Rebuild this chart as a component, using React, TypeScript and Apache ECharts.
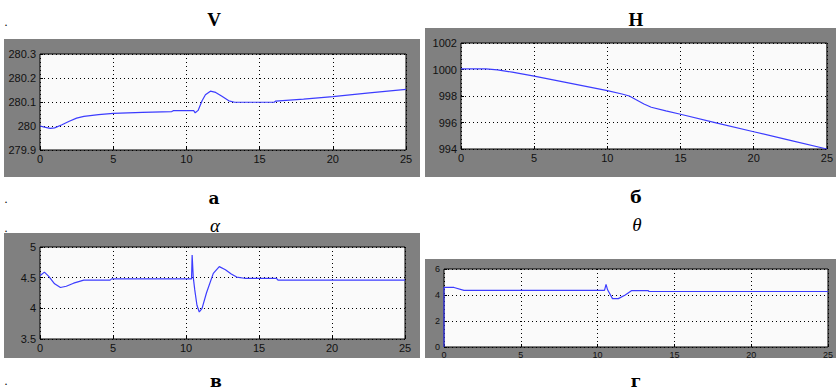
import React, { useEffect, useRef } from "react";
import * as echarts from "echarts";

// ---- data ----
const xTicks = [0, 5, 10, 15, 20, 25];

const vTime = [0, 0.3, 0.7, 1.0, 1.5, 2.0, 2.5, 3.0, 4.0, 5.0, 7.0, 9.0, 9.1, 10.5, 10.6, 10.8, 11.07, 11.3, 11.64, 12.0, 12.4, 12.9, 13.3, 16.0, 16.1, 18, 20, 22.5, 25];
const vValues = [280.0, 279.995, 279.99, 279.992, 280.005, 280.02, 280.033, 280.04, 280.047, 280.053, 280.057, 280.06, 280.064, 280.064, 280.055, 280.065, 280.105, 280.13, 280.145, 280.14, 280.125, 280.105, 280.099, 280.099, 280.104, 280.112, 280.122, 280.138, 280.153];

const hTime = [0, 1.7, 2.5, 3.5, 5, 7.5, 10, 11, 11.5, 12, 12.5, 13, 14, 15, 17.5, 20, 22.5, 25];
const hValues = [1000.05, 1000.05, 999.97, 999.8, 999.5, 998.95, 998.4, 998.15, 998.0, 997.7, 997.4, 997.15, 996.88, 996.62, 995.95, 995.3, 994.65, 994.0];

const aTime = [0, 0.3, 0.6, 1.0, 1.4, 1.8, 2.3, 3.0, 3.3, 4.8, 4.9, 10.38, 10.42, 10.5, 10.6, 10.75, 10.91, 11.1, 11.4, 11.87, 12.28, 12.7, 13.1, 13.47, 14.0, 16.2, 16.3, 25];
const aValues = [4.53, 4.59, 4.52, 4.4, 4.34, 4.36, 4.41, 4.46, 4.46, 4.46, 4.48, 4.48, 4.87, 4.5, 4.3, 4.05, 3.94, 4.0, 4.25, 4.57, 4.68, 4.63, 4.56, 4.51, 4.49, 4.49, 4.46, 4.46];

const thTime = [0, 0, 0.65, 1.3, 10.45, 10.55, 10.65, 10.97, 11.35, 11.8, 12.2, 13.3, 13.35, 25];
const thValues = [0, 4.59, 4.58, 4.36, 4.36, 4.82, 4.4, 3.72, 3.72, 4.0, 4.33, 4.33, 4.27, 4.27];

const panelTitles = ["V", "H", "α", "θ"];
const panelLetters = ["а", "б", "в", "г"];

const zip = (t: number[], v: number[]) => t.map((x, i) => [x, v[i]]);

export default function App() {
  const ref = useRef<HTMLDivElement>(null);
  useEffect(() => {
    if (!ref.current) return;
    const chart = echarts.init(ref.current, undefined, { renderer: "svg" });
    const lineColor = "#3c3cff";
    const grids = [
      { left: 40, top: 54, width: 366, height: 96 },
      { left: 461, top: 43, width: 370, height: 106 },
      { left: 40, top: 247, width: 365, height: 92 },
      { left: 444, top: 269, width: 385, height: 78 },
    ];
    const yCfg = [
      { min: 279.9, max: 280.3, interval: 0.1, dec: 1, fs: 11 },
      { min: 994, max: 1002, interval: 2, dec: 0, fs: 11 },
      { min: 3.5, max: 5, interval: 0.5, dec: 1, fs: 11 },
      { min: 0, max: 6, interval: 2, dec: 0, fs: 9 },
    ];
    const seriesData = [
      zip(vTime, vValues),
      zip(hTime, hValues),
      zip(aTime, aValues),
      zip(thTime, thValues),
    ];
    const splitLine = { show: true, lineStyle: { color: "#000", type: [1, 3] as any, width: 1 } };
    const fontFamily = "'Liberation Sans', Arial, sans-serif";
    const grays = [
      { x: 4, y: 39, width: 416, height: 138 },
      { x: 425, y: 28, width: 411, height: 149 },
      { x: 4, y: 233, width: 416, height: 125 },
      { x: 425, y: 259, width: 411, height: 99 },
    ];
    const textEl = (text: string, x: number, y: number, font: string) => ({
      type: "text",
      x,
      y,
      z: 10,
      style: { text, font, fill: "#000", textAlign: "center", textVerticalAlign: "middle" },
    });
    const option: any = {
      animation: false,
      backgroundColor: "#fff",
      grid: grids.map((g) => ({
        ...g,
        show: true,
        backgroundColor: "#fafafa",
        borderColor: "#000",
        borderWidth: 1,
        containLabel: false,
      })),
      xAxis: grids.map((_, i) => ({
        type: "value",
        gridIndex: i,
        min: xTicks[0],
        max: xTicks[xTicks.length - 1],
        interval: xTicks[1] - xTicks[0],
        axisLine: { show: false },
        axisTick: { show: true, inside: true, length: 3, lineStyle: { color: "#000" } },
        axisLabel: {
          color: "#111",
          fontSize: yCfg[i].fs,
          fontFamily,
          margin: 3,
          showMinLabel: true,
          showMaxLabel: true,
        },
        splitLine,
      })),
      yAxis: grids.map((_, i) => ({
        type: "value",
        gridIndex: i,
        min: yCfg[i].min,
        max: yCfg[i].max,
        interval: yCfg[i].interval,
        axisLine: { show: false },
        axisTick: { show: true, inside: true, length: 3, lineStyle: { color: "#000" } },
        axisLabel: {
          color: "#111",
          fontSize: yCfg[i].fs,
          fontFamily,
          margin: 4,
          showMinLabel: true,
          showMaxLabel: true,
          formatter: (v: number) => String(+v.toFixed(yCfg[i].dec)),
        },
        splitLine,
      })),
      series: seriesData.map((d, i) => ({
        type: "line",
        xAxisIndex: i,
        yAxisIndex: i,
        data: d,
        showSymbol: false,
        symbol: "none",
        lineStyle: { color: lineColor, width: 1.2 },
        itemStyle: { color: lineColor },
      })),
      graphic: [
        ...grays.map((r) => ({
          type: "rect",
          z: -10,
          shape: r,
          style: { fill: "#808080" },
        })),
        textEl(panelTitles[0], 214, 19, "bold 19px 'Liberation Serif', serif"),
        textEl(panelTitles[1], 636, 19, "bold 19px 'Liberation Serif', serif"),
        textEl(panelTitles[2], 215, 225, "italic 19px 'Liberation Serif', serif"),
        textEl(panelTitles[3], 637, 224, "italic 19px 'Liberation Serif', serif"),
        textEl(panelLetters[0], 214, 198, "bold 17px 'DejaVu Serif', serif"),
        textEl(panelLetters[1], 636, 197, "bold 17px 'DejaVu Serif', serif"),
        textEl(panelLetters[2], 216, 381, "bold 17px 'DejaVu Serif', serif"),
        textEl(panelLetters[3], 636, 381, "bold 17px 'DejaVu Serif', serif"),
        textEl(".", 6, 22, "12px serif"),
        textEl(".", 6, 199, "12px serif"),
        textEl(".", 6, 228, "12px serif"),
        textEl(".", 6, 381, "12px serif"),
      ],
    };
    chart.setOption(option);
    return () => chart.dispose();
  }, []);
  return (
    <div
      ref={ref}
      style={{ position: "fixed", left: 0, top: 0, width: 836, height: 390 }}
    />
  );
}
